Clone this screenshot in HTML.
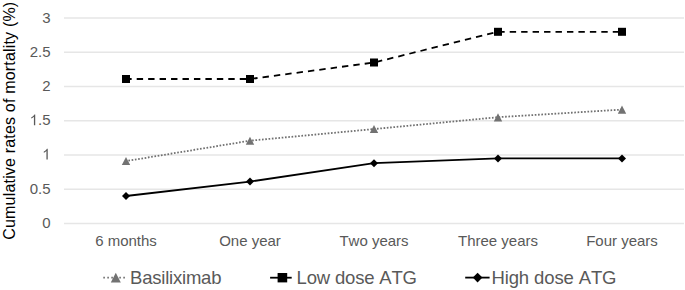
<!DOCTYPE html>
<html>
<head>
<meta charset="utf-8">
<style>
html,body{margin:0;padding:0;background:#fff;}
body{width:685px;height:290px;overflow:hidden;}
svg{display:block;}
text{font-family:"Liberation Sans",sans-serif;font-kerning:none;}
</style>
</head>
<body>
<svg width="685" height="290" viewBox="0 0 685 290">
<rect x="0" y="0" width="685" height="290" fill="#fff"/>
<!-- gridlines -->
<g stroke="#e6e6e6" stroke-width="1.4" fill="none">
<line x1="64" y1="18" x2="684" y2="18"/>
<line x1="64" y1="52.25" x2="684" y2="52.25"/>
<line x1="64" y1="86.5" x2="684" y2="86.5"/>
<line x1="64" y1="120.75" x2="684" y2="120.75"/>
<line x1="64" y1="155" x2="684" y2="155"/>
<line x1="64" y1="189.25" x2="684" y2="189.25"/>
<line x1="64" y1="223.5" x2="684" y2="223.5"/>
</g>
<!-- y labels -->
<g fill="#595959" font-size="15" text-anchor="end">
<text x="50.5" y="22.50">3</text>
<text x="50.5" y="56.75">2.5</text>
<text x="50.5" y="91.00">2</text>
<path transform="translate(29.641,125.25) scale(0.007324,-0.007324)" d="M763 0L583 0L583 1147C540 1106 483 1065 413 1024C343 983 280 952 224 931L224 1105C325 1152 413 1209 488 1276C563 1343 616 1409 647 1466L763 1466Z"/>
<text x="50.5" y="125.25">.5</text>
<path transform="translate(42.156,159.50) scale(0.007324,-0.007324)" d="M763 0L583 0L583 1147C540 1106 483 1065 413 1024C343 983 280 952 224 931L224 1105C325 1152 413 1209 488 1276C563 1343 616 1409 647 1466L763 1466Z"/>
<text x="50.5" y="193.75">0.5</text>
<text x="50.5" y="228.00">0</text>
</g>
<!-- y title -->
<text transform="translate(14.9,120.7) rotate(-90)" text-anchor="middle" font-size="16" fill="#000" letter-spacing="0.18">Cumulative rates of mortality (%)</text>
<!-- x labels -->
<g fill="#595959" font-size="15" text-anchor="middle">
<text x="126" y="246">6 months</text>
<text x="250" y="246">One year</text>
<text x="374" y="246">Two years</text>
<text x="498" y="246">Three years</text>
<text x="622" y="246">Four years</text>
</g>
<!-- Basiliximab -->
<polyline points="126,161.1 250,140.7 374,129.05 498,117.2 622,109.6" fill="none" stroke="#707070" stroke-width="1.8" stroke-dasharray="1.65 1.65" stroke-dashoffset="0.9"/>
<g fill="#727272">
<path d="M126,157 L130.2,165 L121.8,165 Z"/>
<path d="M250,136.7 L254.2,144.7 L245.8,144.7 Z"/>
<path d="M374,125.05 L378.2,133.05 L369.8,133.05 Z"/>
<path d="M498,113.3 L502.2,121.6 L493.8,121.6 Z"/>
<path d="M622,105.5 L626.2,113.7 L617.8,113.7 Z"/>
</g>
<!-- Low dose -->
<polyline points="126,79 250,79 374,62.5 498,31.8 622,31.8" fill="none" stroke="#000" stroke-width="1.8" stroke-dasharray="6.4 5.05" stroke-dashoffset="0.75"/>
<g fill="#000">
<rect x="122" y="75" width="8" height="8"/>
<rect x="246" y="75" width="8" height="8"/>
<rect x="370" y="58.5" width="8" height="8"/>
<rect x="494" y="27.8" width="8" height="8"/>
<rect x="618" y="27.8" width="8" height="8"/>
</g>
<!-- High dose -->
<polyline points="126,196 250,181.6 374,163.2 498,158.4 622,158.4" fill="none" stroke="#000" stroke-width="1.8"/>
<g fill="#000">
<path d="M126,192 L130,196 L126,200 L122,196 Z"/>
<path d="M250,177.6 L254,181.6 L250,185.6 L246,181.6 Z"/>
<path d="M374,159.2 L378,163.2 L374,167.2 L370,163.2 Z"/>
<path d="M498,154.4 L502,158.4 L498,162.4 L494,158.4 Z"/>
<path d="M622,154.4 L626,158.4 L622,162.4 L618,158.4 Z"/>
</g>
<!-- legend -->
<line x1="103.3" y1="277.7" x2="124.9" y2="277.7" stroke="#707070" stroke-width="1.8" stroke-dasharray="1.6 2.4"/>
<path d="M115.8,272.8 L120.8,282.6 L110.8,282.6 Z" fill="#727272"/>
<text x="130" y="283.5" font-size="18.5" fill="#595959" textLength="91.5" lengthAdjust="spacing">Basiliximab</text>
<line x1="270.1" y1="277.7" x2="291.7" y2="277.7" stroke="#000" stroke-width="1.8"/>
<rect x="277.6" y="273" width="9.6" height="9.4" fill="#000"/>
<text x="296.6" y="283.5" font-size="18.5" fill="#595959" textLength="120.4" lengthAdjust="spacing">Low dose ATG</text>
<line x1="465.2" y1="277.6" x2="489.6" y2="277.6" stroke="#000" stroke-width="1.8"/>
<path d="M477.6,272.8 L482.4,277.6 L477.6,282.4 L472.8,277.6 Z" fill="#000"/>
<text x="491.4" y="283.5" font-size="18.5" fill="#595959" textLength="125.1" lengthAdjust="spacing">High dose ATG</text>
</svg>
</body>
</html>
